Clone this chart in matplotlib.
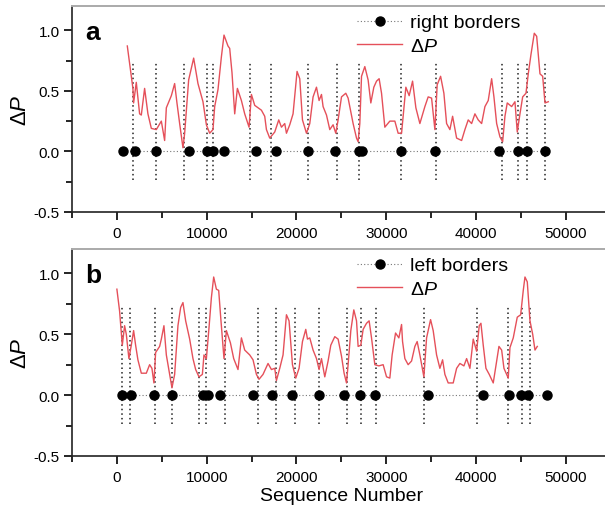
import matplotlib
matplotlib.use("Agg")
import matplotlib.pyplot as plt
from matplotlib.ticker import MultipleLocator

plt.rcParams['font.family'] = ['Liberation Sans', 'DejaVu Sans']
plt.rcParams['mathtext.fontset'] = 'custom'
plt.rcParams['mathtext.rm'] = 'Liberation Sans'
plt.rcParams['mathtext.it'] = 'Liberation Sans:italic'
plt.rcParams['mathtext.sf'] = 'Liberation Sans'

# ---------------- data ----------------
top_x = [1160, 1784, 1862, 2160, 2530, 2720, 3088, 3456, 3835, 4390, 4950, 5318, 5507,
         6065, 6432, 6690, 6990, 7358, 7547, 7993, 8550, 9030, 9588, 9967, 10334, 10702,
         10892, 11260, 11638, 11930, 12374, 12564, 12820, 13122, 13420, 13868, 14236, 14720,
         14983, 15351, 16098, 16466, 16655, 17023, 17581, 18027, 18327, 18696, 18885, 19253,
         19621, 20067, 20368, 20669, 21115, 21483, 21851, 22230, 22520, 22787, 22965, 23345,
         23712, 24080, 24381, 24638, 25017, 25496, 25753, 26310, 26689, 26868, 27057, 27246,
         27614, 27982, 28283, 28618, 28919, 29208, 29476, 29844, 30401, 30959, 31326, 31706,
         31884, 32185, 32553, 32932, 33300, 33746, 34303, 34671, 35050, 35418, 35674, 36054,
         36421, 36722, 37090, 37391, 37837, 38395, 38763, 39130, 39509, 39877, 40245, 40624,
         40992, 41360, 41739, 41995, 42297, 42664, 42965, 43221, 43478, 43968, 44336, 44592,
         44894, 45195, 45563, 45819, 46120, 46488, 46755, 47123, 47424, 47681, 48049]
top_dp = [0.87, 0.52, 0.40, 0.57, 0.31, 0.30, 0.52, 0.31, 0.19, 0.18, 0.25, 0.09, 0.36,
          0.46, 0.56, 0.40, 0.23, 0.03, 0.15, 0.59, 0.77, 0.56, 0.41, 0.22, 0.15, 0.18,
          0.37, 0.51, 0.78, 0.96, 0.87, 0.85, 0.65, 0.31, 0.52, 0.42, 0.31, 0.20,
          0.47, 0.38, 0.34, 0.29, 0.18, 0.11, 0.16, 0.26, 0.20, 0.23, 0.15, 0.22,
          0.31, 0.66, 0.60, 0.26, 0.15, 0.23, 0.45, 0.53, 0.42, 0.47, 0.37, 0.30,
          0.18, 0.22, 0.15, 0.26, 0.45, 0.48, 0.44, 0.23, 0.11, 0.08, 0.23, 0.62,
          0.70, 0.59, 0.40, 0.53, 0.58, 0.60, 0.48, 0.20, 0.25, 0.25, 0.15, 0.15,
          0.29, 0.53, 0.46, 0.58, 0.36, 0.23, 0.37, 0.45, 0.44, 0.18, 0.55, 0.62,
          0.48, 0.23, 0.18, 0.29, 0.11, 0.09, 0.18, 0.26, 0.23, 0.31, 0.26, 0.23,
          0.37, 0.42, 0.60, 0.45, 0.23, 0.12, 0.08, 0.29, 0.40, 0.37, 0.41, 0.16,
          0.31, 0.45, 0.48, 0.64, 0.80, 0.975, 0.95, 0.64, 0.62, 0.40, 0.41]

bot_x = [0, 301, 602, 858, 1048, 1338, 1605, 1862, 2085, 2341, 2720, 3278, 3646, 3902,
         4125, 4314, 4760, 4950, 5240, 5507, 5875, 6132, 6432, 6800, 7101, 7358, 7659,
         8105, 8473, 8774, 9142, 9521, 9699, 9967, 10256, 10524, 10780, 11081, 11338,
         11561, 11929, 12196, 12642, 13010, 13489, 13868, 14236, 14794, 15162, 15541,
         15831, 16276, 16834, 17213, 17581, 17770, 18138, 18506, 18885, 19175, 19554,
         19922, 20290, 20669, 21037, 21227, 21483, 21851, 22230, 22520, 22787, 23155,
         23523, 23824, 24269, 24638, 25017, 25306, 25574, 25753, 26054, 26388, 26689,
         26868, 27168, 27425, 27804, 28093, 28361, 28729, 29175, 29654, 30033, 30401,
         30657, 31036, 31405, 31706, 31817, 32074, 32441, 32820, 33188, 33445, 33746,
         34191, 34493, 34939, 35229, 35607, 35975, 36276, 36533, 36900, 37458, 37837,
         38205, 38651, 38952, 39320, 39688, 40067, 40356, 40547, 40803, 41104, 41472,
         41918, 42297, 42553, 42854, 43110, 43412, 43590, 43779, 44147, 44593, 44972,
         45262, 45451, 45708, 46009, 46310, 46566, 46822]
bot_dp = [0.87, 0.69, 0.41, 0.57, 0.50, 0.30, 0.41, 0.53, 0.41, 0.29, 0.18, 0.18, 0.25, 0.22,
          0.10, 0.35, 0.40, 0.46, 0.57, 0.33, 0.17, 0.06, 0.17, 0.57, 0.72, 0.76, 0.61,
          0.46, 0.30, 0.21, 0.15, 0.17, 0.33, 0.30, 0.55, 0.80, 0.97, 0.87, 0.86,
          0.64, 0.30, 0.53, 0.43, 0.30, 0.21, 0.47, 0.37, 0.33, 0.29, 0.17,
          0.13, 0.17, 0.26, 0.21, 0.22, 0.12, 0.22, 0.33, 0.66, 0.61, 0.25,
          0.14, 0.22, 0.44, 0.54, 0.46, 0.47, 0.37, 0.30, 0.21, 0.30, 0.15,
          0.28, 0.41, 0.48, 0.46, 0.32, 0.18, 0.10, 0.25, 0.53, 0.70, 0.61,
          0.40, 0.41, 0.54, 0.59, 0.61, 0.47, 0.25, 0.24, 0.25, 0.15, 0.14,
          0.33, 0.51, 0.47, 0.58, 0.44, 0.30, 0.25, 0.28, 0.40, 0.44, 0.33,
          0.15, 0.47, 0.62, 0.53, 0.33, 0.22, 0.29, 0.17, 0.10, 0.10, 0.22,
          0.26, 0.24, 0.30, 0.22, 0.46, 0.36, 0.57, 0.59, 0.41, 0.22, 0.17,
          0.10, 0.28, 0.40, 0.37, 0.22, 0.17, 0.14, 0.39, 0.47, 0.64, 0.66,
          0.86, 0.97, 0.93, 0.61, 0.50, 0.37, 0.40]

right_dots = [669, 2051, 4314, 8027, 10000, 10702, 11895, 15463, 17770, 21293, 24303,
              26979, 27313, 31594, 35451, 42586, 44705, 45708, 47681]
right_lines = [1784, 4314, 7469, 10000, 10702, 14827, 17135, 21338, 24493, 26979, 31594,
               35546, 42921, 44705, 45708, 47681]
left_dots = [557, 1605, 4091, 6132, 9588, 10145, 11527, 15162, 17246, 19476, 22486, 25306,
             27057, 28729, 34671, 40736, 43701, 44972, 45819, 47938]
left_lines = [602, 1494, 4203, 6132, 9142, 9967, 12040, 15719, 17692, 19888, 22520, 25574,
              27135, 28807, 34225, 40067, 43590, 45084, 46009]

panel_labels = ['a', 'b']
border_labels = ['right borders', 'left borders']

# ---------------- figure ----------------
W, H = 605, 510
fig = plt.figure(figsize=(W / 100, H / 100), dpi=100)

def px_axes(left, top, right, bottom):
    return fig.add_axes([left / W, 1 - bottom / H, (right - left) / W, (bottom - top) / H])

ax_top = px_axes(72, 7, 610.7, 213)
ax_bot = px_axes(72, 250, 610.7, 457)

red = '#e5505a'
sets = [
    (ax_top, top_x, top_dp, right_dots, right_lines),
    (ax_bot, bot_x, bot_dp, left_dots, left_lines),
]

for i, (ax, cx, cy, dots, lines) in enumerate(sets):
    ax.vlines(lines, -0.24, 0.73, colors='#222222', linestyles=(0, (1, 2.0)), linewidth=1.1, zorder=2)
    hb, = ax.plot(dots, [0.0] * len(dots), linestyle=(0, (1, 2)), color='#777777', linewidth=0.8,
                  marker='o', markersize=6.5, markerfacecolor='black', markeredgecolor='black',
                  zorder=3, label=border_labels[i])
    hl, = ax.plot(cx, cy, color=red, linewidth=1.0, zorder=4, label=r'$\Delta\mathit{P}$')

    ax.set_xlim(-5000, 55000)
    ax.set_ylim(-0.5, 1.2)
    ax.xaxis.set_major_locator(MultipleLocator(10000))
    ax.xaxis.set_minor_locator(MultipleLocator(5000))
    ax.yaxis.set_major_locator(MultipleLocator(0.5))
    ax.yaxis.set_minor_locator(MultipleLocator(0.25))
    ax.yaxis.set_major_formatter(plt.FuncFormatter(lambda v, p: f'{v:.1f}'))
    ax.tick_params(which='major', direction='out', length=6, width=1.2, labelsize=11, pad=3)
    ax.tick_params(which='minor', direction='out', length=4, width=1.2)
    ax.tick_params(axis='x', which='major', pad=4)
    for s in ['left', 'bottom']:
        ax.spines[s].set_linewidth(1.2)
        ax.spines[s].set_color('#222222')
    ax.spines['top'].set_color('#aaaaaa')
    ax.spines['top'].set_linewidth(1.4)
    ax.spines['right'].set_visible(False)

    ax.set_ylabel(r'$\Delta\mathit{P}$', fontsize=16, labelpad=2)
    ax.text(0.024, 0.93, panel_labels[i], transform=ax.transAxes, fontsize=19,
            fontweight='bold', va='top', ha='left')

    leg = ax.legend(handles=[hb, hl], loc='upper left', bbox_to_anchor=(0.515, 1.0),
                    frameon=False, fontsize=14, numpoints=1, handlelength=2.3,
                    handletextpad=0.4, labelspacing=0.3, borderaxespad=0)

ax_bot.set_xlabel('Sequence Number', fontsize=14, labelpad=2)

fig.savefig('out.png', dpi=100)
